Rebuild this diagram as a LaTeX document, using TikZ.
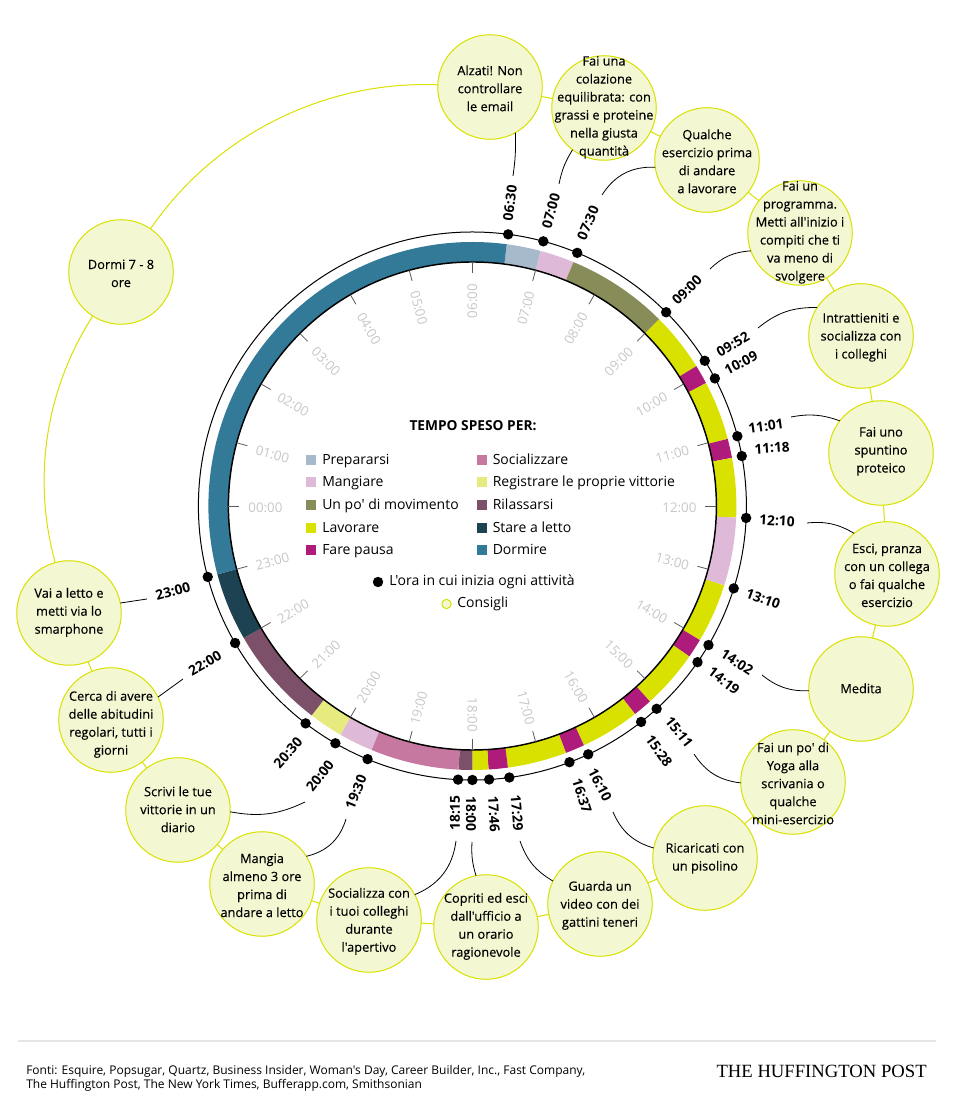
\documentclass[tikz,border=0pt]{standalone}
\usepackage{fontspec}
\setmainfont{Open Sans}[Ligatures=TeXOff]
\newfontfamily\bubfont[FakeBold=0.2,Ligatures=TeXOff]{Open Sans}
\newfontfamily\logofont{Liberation Serif}
\usetikzlibrary{positioning}

\definecolor{cprep}{HTML}{A7BACC}
\definecolor{cmang}{HTML}{DFB9D8}
\definecolor{cmov}{HTML}{878C58}
\definecolor{clav}{HTML}{D8E100}
\definecolor{cpausa}{HTML}{AE1B7B}
\definecolor{csoc}{HTML}{C678A0}
\definecolor{creg}{HTML}{E6EA7F}
\definecolor{crel}{HTML}{7C5069}
\definecolor{cletto}{HTML}{1D4251}
\definecolor{cdorm}{HTML}{337A99}
\definecolor{cbub}{HTML}{F3F7D2}

\tikzset{
    bubble/.style={circle,draw=clav,fill=cbub,line width=0.75pt,minimum size=78.4pt,inner sep=0pt,outer sep=0pt},
    bubtext/.style={align=center,font=\bubfont\fontsize{9.6}{13.5}\selectfont,inner sep=0pt,yshift=-0.3pt},
    link/.style={draw=clav,line width=0.75pt},
    wire/.style={draw=black,line width=0.6pt},
    timelab/.style={font=\fontsize{10.3}{12}\selectfont\bfseries,inner sep=0pt},
    hourlab/.style={font=\fontsize{10}{12}\selectfont,text=black!22,inner sep=0pt},
    startdot/.style={circle,fill=black,minimum size=7.8pt,inner sep=0pt},
    legbox/.style={minimum size=7.5pt,inner sep=0pt},
    legtext/.style={anchor=west,font=\fontsize{10.5}{12}\selectfont,inner sep=0pt,text height=7.5pt,text depth=2pt}
}

\begin{document}
\begin{tikzpicture}[x=0.75pt,y=0.75pt]
    \useasboundingbox (0,0) rectangle (965,1110);

    % the clock
    \begin{scope}[shift={(472.4,604)}]
        \foreach \from/\to/\col in {390/420/cprep,420/450/cmang,450/540/cmov,540/592/clav,592/609/cpausa,
                609/661/clav,661/678/cpausa,678/730/clav,730/790/cmang,790/842/clav,842/859/cpausa,
                859/911/clav,911/928/cpausa,928/980/clav,980/997/cpausa,997/1049/clav,1049/1066/cpausa,
                1066/1080/clav,1080/1092/crel,1092/1170/csoc,1170/1200/cmang,1200/1230/creg,
                1230/1320/crel,1320/1380/cletto,1380/1830/cdorm}
            \draw[\col,line width=15pt] ({180-\from/4}:254) arc[start angle={180-\from/4},end angle={180-\to/4},radius=254];
        \draw[line width=1.1pt] (0,0) circle (244);
        \draw[line width=0.75pt] (0,0) circle (274);
        \foreach \h in {0,...,23} {
            \pgfmathsetmacro\rot{ifthenelse(and(\h>=6,\h<=18),180-15*\h,360-15*\h)}
            \draw[black!65,line width=0.6pt] ({180-15*\h}:233) -- ({180-15*\h}:244);
            \node[hourlab,rotate=\rot] (hr\h) at ([yshift=-1.5pt]{180-15*\h}:207) {\ifnum\h<10 0\fi\h:00};
        }
        \foreach \m in {390,420,450,540,592,609,661,678,730,790,842,859,911,928,980,997,1049,1066,1080,1092,1170,1200,1230,1320,1380}
            \node[startdot] (dot\m) at ({180-\m/4}:274) {};
    \end{scope}

    % ore
    \node[timelab,rotate=83] (t0630) at (510,907) {06:30};
    \node[timelab,rotate=75] (t0700) at (551,899) {07:00};
    \node[timelab,rotate=67] (t0730) at (588,887) {07:30};
    \node[timelab,rotate=45] (t0900) at (687,820) {09:00};
    \node[timelab,rotate=30] (t0952) at (733,766) {09:52};
    \node[timelab,rotate=27] (t1009) at (741,747) {10:09};
    \node[timelab,rotate=8] (t1101) at (766,684) {11:01};
    \node[timelab,rotate=4] (t1118) at (772,662) {11:18};
    \node[timelab,rotate=-3] (t1210) at (777,589) {12:10};
    \node[timelab,rotate=-20] (t1310) at (763,511) {13:10};
    \node[timelab,rotate=-33] (t1402) at (737,448) {14:02};
    \node[timelab,rotate=-38] (t1419) at (724,429) {14:19};
    \node[timelab,rotate=-52] (t1511) at (679,378) {15:11};
    \node[timelab,rotate=-55] (t1528) at (659,359) {15:28};
    \node[timelab,rotate=-63] (t1610) at (600,325) {16:10};
    \node[timelab,rotate=-72] (t1637) at (582,314) {16:37};
    \node[timelab,rotate=-85] (t1729) at (517,297) {17:29};
    \node[timelab,rotate=-87] (t1746) at (494,296) {17:46};
    \node[timelab,rotate=-90] (t1800) at (471,296) {18:00};
    \node[timelab,rotate=90] (t1815) at (455,297) {18:15};
    \node[timelab,rotate=68] (t1930) at (356,318) {19:30};
    \node[timelab,rotate=52] (t2000) at (320,334) {20:00};
    \node[timelab,rotate=48] (t2030) at (288,357) {20:30};
    \node[timelab,rotate=30] (t2200) at (205,447) {22:00};
    \node[timelab,rotate=15] (t2300) at (173,519) {23:00};

    % consigli
    \node[bubble] (bubA) at (490,1023) {};
    \node[bubble] (bubB) at (604,1002) {};
    \node[bubble] (bubC) at (707,950) {};
    \node[bubble] (bubD) at (800,877) {};
    \node[bubble] (bubE) at (861,774) {};
    \node[bubble] (bubF) at (881,657) {};
    \node[bubble] (bubG) at (887,536) {};
    \node[bubble] (bubH) at (861,421) {};
    \node[bubble] (bubI) at (793,328) {};
    \node[bubble] (bubJ) at (705,252) {};
    \node[bubble] (bubK) at (600,206) {};
    \node[bubble] (bubL) at (486,183) {};
    \node[bubble] (bubM) at (369,190) {};
    \node[bubble] (bubN) at (262,226) {};
    \node[bubble] (bubO) at (178,300) {};
    \node[bubble] (bubP) at (111,390) {};
    \node[bubble] (bubQ) at (69,497) {};
    \node[bubble] (bubR) at (121,838) {};

    \node[bubtext] (txtA) at (490,1022) {Alzati! Non\\controllare\\le email};
    \node[bubtext] (txtB) at (604,1003) {Fai una\\colazione\\equilibrata: con\\grassi e proteine\\nella giusta\\quantità};
    \node[bubtext] (txtC) at (707,949) {Qualche\\esercizio prima\\di andare\\a lavorare};
    \node[bubtext] (txtD) at (800,878) {Fai un\\programma.\\Metti all'inizio i\\compiti che ti\\va meno di\\svolgere};
    \node[bubtext] (txtE) at (861,773) {Intrattieniti e\\socializza con\\i colleghi};
    \node[bubtext] (txtF) at (881,659) {Fai uno\\spuntino\\proteico};
    \node[bubtext] (txtG) at (887,535) {Esci, pranza\\con un collega\\o fai qualche\\esercizio};
    \node[bubtext] (txtH) at (861,422) {Medita};
    \node[bubtext] (txtI) at (793,327) {Fai un po' di\\Yoga alla\\scrivania o\\qualche\\mini-esercizio};
    \node[bubtext] (txtJ) at (705,252) {Ricaricati con\\un pisolino};
    \node[bubtext] (txtK) at (600,205) {Guarda un\\video con dei\\gattini teneri};
    \node[bubtext] (txtL) at (486,184) {Copriti ed esci\\dall'ufficio a\\un orario\\ragionevole};
    \node[bubtext] (txtM) at (369,189) {Socializza con\\i tuoi colleghi\\durante\\l'apertivo};
    \node[bubtext] (txtN) at (262,225) {Mangia\\almeno 3 ore\\prima di\\andare a letto};
    \node[bubtext] (txtO) at (178,301) {Scrivi le tue\\vittorie in un\\diario};
    \node[bubtext] (txtP) at (111,386) {Cerca di avere\\delle abitudini\\regolari, tutti i\\giorni};
    \node[bubtext] (txtQ) at (69,498) {Vai a letto e\\metti via lo\\smarphone};
    \node[bubtext] (txtR) at (121,837) {Dormi 7 - 8\\ore};

    \path[link] (bubA) -- (bubB) (bubB) -- (bubC) (bubC) -- (bubD) (bubD) -- (bubE)
                (bubE) -- (bubF) (bubF) -- (bubG) (bubG) -- (bubH) (bubH) -- (bubI)
                (bubI) -- (bubJ) (bubJ) -- (bubK) (bubK) -- (bubL) (bubL) -- (bubM)
                (bubM) -- (bubN) (bubN) -- (bubO) (bubO) -- (bubP) (bubP) -- (bubQ);
    \path[link] (bubQ) to[bend left=24,looseness=0.9] (bubR)
                (bubR) to[bend left=29,looseness=0.9] (bubA);

    % fili
    \coordinate (tipA) at (513,934);
    \coordinate (tipB) at (559,926);
    \coordinate (tipC) at (602,915);
    \coordinate (tipD) at (710,841);
    \coordinate (tipE) at (758,782);
    \coordinate (tipF) at (791,693);
    \coordinate (tipG) at (807,587);
    \coordinate (tipH) at (762,435);
    \coordinate (tipI) at (694,356);
    \coordinate (tipJ) at (613,298);
    \coordinate (tipK) at (520,269);
    \coordinate (tipL) at (472,268);
    \coordinate (tipM) at (456,269);
    \coordinate (tipN) at (346,291);
    \coordinate (tipO) at (305,308);
    \coordinate (tipP) at (183,431);
    \coordinate (tipQ) at (147,511);

    \path[wire] (tipA) to[bend right=5] (bubA.-61)
                (tipB) to[bend left=10] (bubB.233)
                (tipC) to[bend left=30] (bubC.188)
                (tipD) to[bend left=20] (bubD.200)
                (tipE) to[bend left=20] (bubE.147)
                (tipF) to[bend left=15] (bubF.142)
                (tipG) to[bend left=18] (bubG.129)
                (tipH) to[bend right=20] (bubH.182)
                (tipI) to[bend right=25] (bubI.181)
                (tipJ) to[bend right=25] (bubJ.169)
                (tipK) to[bend right=20] (bubK.154)
                (tipL) to[bend right=10] (bubL.101)
                (tipM) to[bend left=30] (bubM.29)
                (tipN) to[bend left=30] (bubN.32)
                (tipO) to[bend left=18] (bubO.-2)
                (tipP) -- (bubP.26)
                (tipQ) -- (bubQ.11);

    % legenda
    \node[font=\fontsize{10.3}{12}\selectfont\bfseries] (title) at (473,684) {TEMPO SPESO PER:};
    \node[legbox,fill=cprep] (b1) at (311,650) {};
    \node[legbox,fill=cmang] (b2) at (311,628) {};
    \node[legbox,fill=cmov] (b3) at (311,605) {};
    \node[legbox,fill=clav] (b4) at (311,582) {};
    \node[legbox,fill=cpausa] (b5) at (311,560) {};
    \node[legbox,fill=csoc] (b6) at (481.5,650) {};
    \node[legbox,fill=creg] (b7) at (481.5,628) {};
    \node[legbox,fill=crel] (b8) at (481.5,605) {};
    \node[legbox,fill=cletto] (b9) at (481.5,582) {};
    \node[legbox,fill=cdorm] (b10) at (481.5,560) {};
    \node[legtext] (l1) at (322,648.7) {Prepararsi};
    \node[legtext] (l2) at (322,626.7) {Mangiare};
    \node[legtext] (l3) at (322,603.7) {Un po' di movimento};
    \node[legtext] (l4) at (322,580.7) {Lavorare};
    \node[legtext] (l5) at (322,558.7) {Fare pausa};
    \node[legtext] (l6) at (492.5,648.7) {Socializzare};
    \node[legtext] (l7) at (492.5,626.7) {Registrare le proprie vittorie};
    \node[legtext] (l8) at (492.5,603.7) {Rilassarsi};
    \node[legtext] (l9) at (492.5,580.7) {Stare a letto};
    \node[legtext] (l10) at (492.5,558.7) {Dormire};
    \node[startdot] (legdot) at (378,528) {};
    \node[legtext] (legore) at (389,527.7) {L'ora in cui inizia ogni attività};
    \node[circle,draw=clav,fill=cbub,line width=0.75pt,minimum size=7pt,inner sep=0pt] (legbub) at (446.5,506) {};
    \node[legtext] (legcons) at (457,506.4) {Consigli};

    % fonti
    \draw[black!10,line width=1.5pt] (18,69) -- (936,69);
    \node[anchor=west,align=left,inner sep=0pt,font=\fontsize{9}{10.5}\selectfont] (fonti) at (26,32)
        {Fonti: Esquire, Popsugar, Quartz, Business Insider, Woman's Day, Career Builder, Inc., Fast Company,\\The Huffington Post, The New York Times, Bufferapp.com, Smithsonian};
    \node[anchor=east,inner sep=0pt,font=\logofont\fontsize{14}{15}\selectfont] (logo) at (927,39) {THE HUFFINGTON POST};
\end{tikzpicture}
\end{document}
